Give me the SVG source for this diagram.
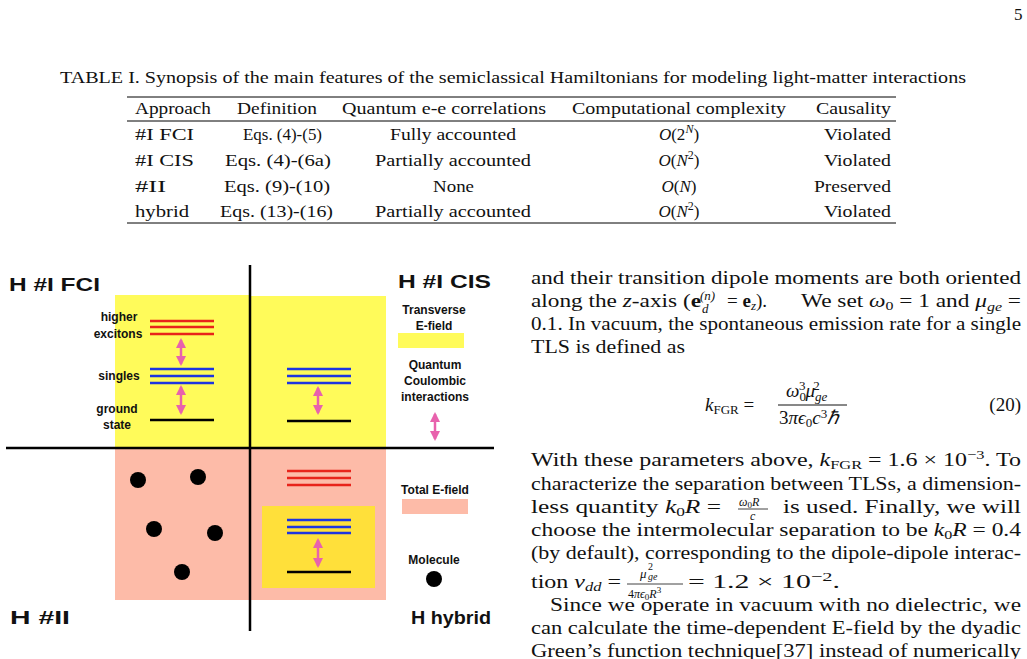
<svg xmlns="http://www.w3.org/2000/svg" width="1027" height="659" viewBox="0 0 1027 659">
<defs>
<style>
.s{font-family:"Liberation Serif",serif;fill:#111}
.t{font-size:17px}
.p{font-size:19px}
.i{font-style:italic}
.h{font-family:"Liberation Sans",sans-serif;font-weight:bold;fill:#111}
.ttl{font-size:19px}
.lab{font-size:12px}
.ax{stroke:#000;stroke-width:2.5}
.rl{stroke:#e8231a;stroke-width:2.6}
.bl{stroke:#1d35e0;stroke-width:2.6}
.kl{stroke:#000;stroke-width:2.6}
.ar{stroke:#e862ad;stroke-width:2.5;fill:none}
.tl{stroke:#000;stroke-width:1}
</style>
<marker id="ah" viewBox="0 0 10 10" refX="8" refY="5" markerWidth="4" markerHeight="4" orient="auto-start-reverse"><path d="M0,0L10,5L0,10z" fill="#e862ad"/></marker>
</defs>
<rect width="1027" height="659" fill="#fff"/>
<text class="s" x="1014" y="20" font-size="17">5</text>
<g id="table">
<text class="s" x="60" y="83" font-size="16.5" textLength="906" lengthAdjust="spacingAndGlyphs">TABLE I. Synopsis of the main features of the semiclassical Hamiltonians for modeling light-matter interactions</text>
<line class="tl" x1="127" y1="97" x2="896" y2="97"/>
<line class="tl" x1="127" y1="121" x2="896" y2="121"/>
<line class="tl" x1="127" y1="223" x2="896" y2="223"/>
<g class="s t">
<text x="135" y="114" textLength="76" lengthAdjust="spacingAndGlyphs">Approach</text>
<text x="237" y="114" textLength="80" lengthAdjust="spacingAndGlyphs">Definition</text>
<text x="342" y="114" textLength="204" lengthAdjust="spacingAndGlyphs">Quantum e-e correlations</text>
<text x="572" y="114" textLength="214" lengthAdjust="spacingAndGlyphs">Computational complexity</text>
<text x="816" y="114" textLength="75" lengthAdjust="spacingAndGlyphs">Causality</text>
<text x="135" y="140" textLength="59" lengthAdjust="spacingAndGlyphs">#I FCI</text><text x="243" y="140" textLength="79" lengthAdjust="spacingAndGlyphs">Eqs. (4)-(5)</text><text x="390" y="140" textLength="126" lengthAdjust="spacingAndGlyphs">Fully accounted</text><text x="679" y="140" text-anchor="middle"><tspan class="i">O</tspan>(2<tspan font-size="12" dy="-7" class="i">N</tspan><tspan dy="7">)</tspan></text><text x="891" y="140" text-anchor="end" textLength="67" lengthAdjust="spacingAndGlyphs">Violated</text>
<text x="135" y="166" textLength="59" lengthAdjust="spacingAndGlyphs">#I CIS</text><text x="225" y="166" textLength="106" lengthAdjust="spacingAndGlyphs">Eqs. (4)-(6a)</text><text x="375" y="166" textLength="156" lengthAdjust="spacingAndGlyphs">Partially accounted</text><text x="679" y="166" text-anchor="middle"><tspan class="i">O</tspan>(<tspan class="i">N</tspan><tspan font-size="12" dy="-7">2</tspan><tspan dy="7">)</tspan></text><text x="891" y="166" text-anchor="end" textLength="67" lengthAdjust="spacingAndGlyphs">Violated</text>
<text x="135" y="192" textLength="31" lengthAdjust="spacingAndGlyphs">#II</text><text x="224" y="192" textLength="106" lengthAdjust="spacingAndGlyphs">Eqs. (9)-(10)</text><text x="433" y="192" textLength="41" lengthAdjust="spacingAndGlyphs">None</text><text x="679" y="192" text-anchor="middle"><tspan class="i">O</tspan>(<tspan class="i">N</tspan>)</text><text x="891" y="192" text-anchor="end" textLength="77" lengthAdjust="spacingAndGlyphs">Preserved</text>
<text x="135" y="217" textLength="54" lengthAdjust="spacingAndGlyphs">hybrid</text><text x="220" y="217" textLength="113" lengthAdjust="spacingAndGlyphs">Eqs. (13)-(16)</text><text x="375" y="217" textLength="156" lengthAdjust="spacingAndGlyphs">Partially accounted</text><text x="679" y="217" text-anchor="middle"><tspan class="i">O</tspan>(<tspan class="i">N</tspan><tspan font-size="12" dy="-7">2</tspan><tspan dy="7">)</tspan></text><text x="891" y="217" text-anchor="end" textLength="67" lengthAdjust="spacingAndGlyphs">Violated</text>
</g>
</g>
<g id="figure">
<rect x="115" y="295" width="136" height="153" fill="#fffb5a"/>
<rect x="250" y="296" width="136" height="152" fill="#fffb5a"/>
<rect x="115" y="448" width="271" height="152" fill="#fdbba8"/>
<rect x="262" y="506" width="113" height="82" fill="#ffe03a"/>
<line class="ax" x1="250" y1="265" x2="250" y2="631"/>
<line class="ax" x1="6" y1="448" x2="494" y2="448"/>
<g class="h ttl">
<text x="9" y="291" textLength="91" lengthAdjust="spacingAndGlyphs">H #I FCI</text>
<text x="398" y="288" textLength="93" lengthAdjust="spacingAndGlyphs">H #I CIS</text>
<text x="10" y="624" textLength="60" lengthAdjust="spacingAndGlyphs">H #II</text>
<text x="411" y="624" textLength="80" lengthAdjust="spacingAndGlyphs">H hybrid</text>
</g>
<g class="h lab" text-anchor="middle">
<text x="119" y="321">higher</text><text x="118" y="338">excitons</text>
<text x="119" y="380">singles</text>
<text x="117" y="413">ground</text><text x="117" y="429">state</text>
<text x="434" y="314">Transverse</text><text x="434" y="330">E-field</text>
<text x="435" y="369">Quantum</text><text x="435" y="385">Coulombic</text><text x="435" y="401">interactions</text>
<text x="435" y="494">Total E-field</text>
<text x="434" y="564">Molecule</text>
</g>
<rect x="398" y="333" width="66" height="15" fill="#fffb5a"/>
<rect x="402" y="499" width="66" height="15" fill="#fdbba8"/>
<circle cx="434" cy="579" r="8" fill="#000"/>
<g id="levels">
<line class="rl" x1="150" y1="321" x2="214" y2="321"/><line class="rl" x1="150" y1="327" x2="214" y2="327"/><line class="rl" x1="150" y1="334" x2="214" y2="334"/>
<line class="bl" x1="150" y1="369" x2="214" y2="369"/><line class="bl" x1="150" y1="376" x2="214" y2="376"/><line class="bl" x1="150" y1="383" x2="214" y2="383"/>
<line class="kl" x1="150" y1="420" x2="214" y2="420"/>
<line class="bl" x1="287" y1="369" x2="351" y2="369"/><line class="bl" x1="287" y1="376" x2="351" y2="376"/><line class="bl" x1="287" y1="383" x2="351" y2="383"/>
<line class="kl" x1="287" y1="421" x2="351" y2="421"/>
<line class="rl" x1="287" y1="471" x2="351" y2="471"/><line class="rl" x1="287" y1="478" x2="351" y2="478"/><line class="rl" x1="287" y1="485" x2="351" y2="485"/>
<line class="bl" x1="287" y1="520" x2="351" y2="520"/><line class="bl" x1="287" y1="527" x2="351" y2="527"/><line class="bl" x1="287" y1="533" x2="351" y2="533"/>
<line class="kl" x1="287" y1="572" x2="351" y2="572"/>
</g>
<g id="connectors">
<line class="ar" x1="181" y1="340" x2="181" y2="364" marker-start="url(#ah)" marker-end="url(#ah)"/>
<line class="ar" x1="181" y1="387" x2="181" y2="413" marker-start="url(#ah)" marker-end="url(#ah)"/>
<line class="ar" x1="318" y1="388" x2="318" y2="413" marker-start="url(#ah)" marker-end="url(#ah)"/>
<line class="ar" x1="318" y1="540" x2="318" y2="566" marker-start="url(#ah)" marker-end="url(#ah)"/>
<line class="ar" x1="435" y1="414" x2="435" y2="439" marker-start="url(#ah)" marker-end="url(#ah)"/>
</g>
<g id="molecules" fill="#000">
<circle cx="138" cy="480" r="8"/><circle cx="198" cy="477" r="8"/><circle cx="154" cy="529" r="8"/><circle cx="215" cy="533" r="8"/><circle cx="182" cy="572" r="8"/>
</g>
</g>
<g id="body" class="s p">
<text x="531" y="284" textLength="490" lengthAdjust="spacingAndGlyphs">and their transition dipole moments are both oriented</text>
<text x="531" y="307" textLength="170" lengthAdjust="spacingAndGlyphs">along the <tspan class="i">z</tspan>-axis (<tspan font-weight="bold">e</tspan></text>
<text x="702" y="313" font-size="13" class="i">d</text><text x="700" y="300" font-size="13" class="i">(n)</text>
<text x="727" y="307">= <tspan font-weight="bold">e</tspan><tspan font-size="13" class="i" dy="3">z</tspan><tspan dy="-3">).</tspan></text>
<text x="801" y="307" textLength="220" lengthAdjust="spacingAndGlyphs">We set <tspan class="i">ω</tspan><tspan font-size="13" dy="3">0</tspan><tspan dy="-3"> = 1 and </tspan><tspan class="i">μ</tspan><tspan font-size="13" class="i" dy="4">ge</tspan><tspan dy="-4"> =</tspan></text>
<text x="531" y="330" textLength="490" lengthAdjust="spacingAndGlyphs">0.1. In vacuum, the spontaneous emission rate for a single</text>
<text x="531" y="353" textLength="154" lengthAdjust="spacingAndGlyphs">TLS is defined as</text>
<text x="705" y="411"><tspan class="i">k</tspan><tspan font-size="13" dy="3">FGR</tspan><tspan dy="-3"> =</tspan></text>
<line x1="778" y1="405" x2="847" y2="405" stroke="#111" stroke-width="1"/>
<text x="786" y="397"><tspan class="i">ω</tspan><tspan font-size="13" dy="4">0</tspan><tspan font-size="13" dx="-7" dy="-11">3</tspan><tspan class="i" dy="7">μ</tspan><tspan font-size="13" class="i" dy="4">ge</tspan><tspan font-size="13" dx="-14" dy="-11">2</tspan></text>
<text x="779" y="424">3<tspan class="i">πϵ</tspan><tspan font-size="13" dy="3">0</tspan><tspan class="i" dy="-3">c</tspan><tspan font-size="13" dy="-6">3</tspan><tspan class="i" dy="6">ℏ</tspan></text>
<text x="1021" y="411" text-anchor="end">(20)</text>
<text x="531" y="466" textLength="490" lengthAdjust="spacingAndGlyphs">With these parameters above, <tspan class="i">k</tspan><tspan font-size="13" dy="3">FGR</tspan><tspan dy="-3"> = 1.6 × 10</tspan><tspan font-size="13" dy="-7">−3</tspan><tspan dy="7">.  To</tspan></text>
<text x="531" y="490" textLength="490" lengthAdjust="spacingAndGlyphs">characterize the separation between TLSs, a dimension-</text>
<text x="531" y="513" textLength="190" lengthAdjust="spacingAndGlyphs">less quantity <tspan class="i">k</tspan><tspan font-size="13" dy="3">0</tspan><tspan class="i" dy="-3">R</tspan>  =</text>
<text x="739" y="506" font-size="12" class="i">ω<tspan font-style="normal" font-size="9" dy="2">0</tspan><tspan dy="-2">R</tspan></text>
<line x1="738" y1="509" x2="768" y2="509" stroke="#111" stroke-width="0.8"/>
<text x="750" y="520" font-size="12" class="i">c</text>
<text x="783" y="513" textLength="238" lengthAdjust="spacingAndGlyphs">is used.   Finally, we will</text>
<text x="531" y="536" textLength="490" lengthAdjust="spacingAndGlyphs">choose the intermolecular separation to be <tspan class="i">k</tspan><tspan font-size="13" dy="3">0</tspan><tspan class="i" dy="-3">R</tspan> = 0.4</text>
<text x="531" y="559" textLength="490" lengthAdjust="spacingAndGlyphs">(by default), corresponding to the dipole-dipole interac-</text>
<text x="531" y="588" textLength="90" lengthAdjust="spacingAndGlyphs">tion <tspan class="i">v</tspan><tspan font-size="13" class="i" dy="3">dd</tspan><tspan dy="-3"> =</tspan></text>
<text x="640" y="578" font-size="13" class="i">μ</text><text x="648" y="580" font-size="10" class="i">ge</text><text x="648" y="570" font-size="10">2</text>
<line x1="627" y1="584" x2="683" y2="584" stroke="#111" stroke-width="0.8"/>
<text x="628" y="598" font-size="12">4<tspan class="i">πϵ</tspan><tspan font-size="9" dy="2">0</tspan><tspan class="i" dy="-2">R</tspan><tspan font-size="9" dy="-5">3</tspan></text>
<text x="688" y="588" textLength="152" lengthAdjust="spacingAndGlyphs">= 1.2 × 10<tspan font-size="13" dy="-7">−2</tspan><tspan dy="7">.</tspan></text>
<text x="550" y="611" textLength="471" lengthAdjust="spacingAndGlyphs">Since we operate in vacuum with no dielectric, we</text>
<text x="531" y="634" textLength="490" lengthAdjust="spacingAndGlyphs">can calculate the time-dependent E-field by the dyadic</text>
<text x="531" y="657" textLength="490" lengthAdjust="spacingAndGlyphs">Green’s function technique[37] instead of numerically</text>
</g>
</svg>
